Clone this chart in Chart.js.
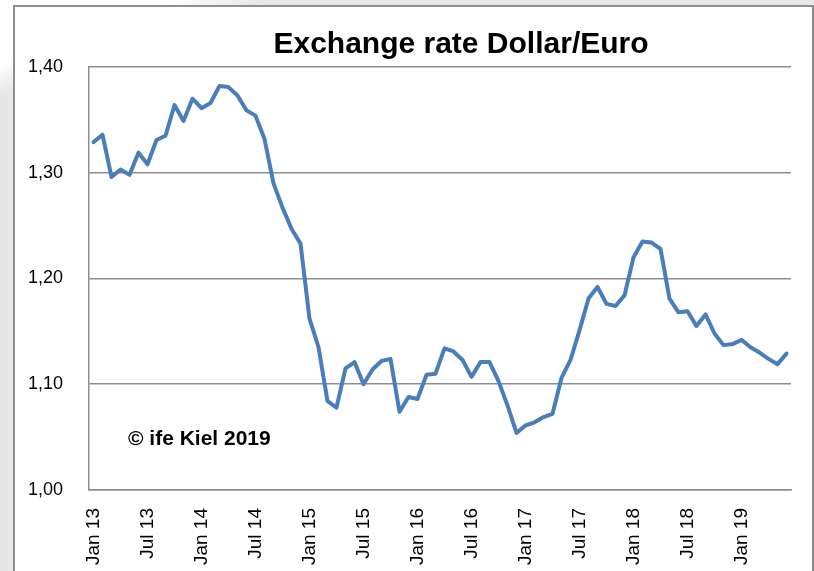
<!DOCTYPE html>
<html>
<head>
<meta charset="utf-8">
<script src="https://cdn.jsdelivr.net/npm/chart.js@4.4.1/dist/chart.umd.min.js"></script>
<style>
  html, body { margin: 0; padding: 0; }
  body {
    width: 814px; height: 571px; overflow: hidden; position: relative;
    background: linear-gradient(160deg, #ffffff 0, #ffffff 60px, #e7e7e7 90px, #e7e7e7 100%);
  }
  #box {
    position: absolute; left: 13px; top: 5px; width: 797px; height: 600px;
    border: 2px solid #8e8e8e; background: #fff;
  }
  #wrap { position: absolute; left: 16px; top: 8px; width: 794px; height: 563px; }
</style>
</head>
<body>
<div id="box"></div>
<div id="wrap"><canvas id="fxChart"></canvas></div>
<script>
// monthly average USD per EUR, Jan 2013 - Jun 2019
const years = ['13', '14', '15', '16', '17', '18', '19'];
const monthNames = ['Jan', 'Feb', 'Mar', 'Apr', 'May', 'Jun', 'Jul', 'Aug', 'Sep', 'Oct', 'Nov', 'Dec'];
const rate2013 = [1.329, 1.336, 1.296, 1.303, 1.298, 1.319, 1.308, 1.331, 1.335, 1.364, 1.349, 1.370];
const rate2014 = [1.361, 1.366, 1.382, 1.381, 1.373, 1.359, 1.354, 1.332, 1.290, 1.267, 1.247, 1.233];
const rate2015 = [1.162, 1.135, 1.084, 1.078, 1.115, 1.121, 1.100, 1.114, 1.122, 1.124, 1.074, 1.088];
const rate2016 = [1.086, 1.109, 1.110, 1.134, 1.131, 1.123, 1.107, 1.121, 1.121, 1.103, 1.080, 1.054];
const rate2017 = [1.061, 1.064, 1.069, 1.072, 1.106, 1.123, 1.151, 1.181, 1.192, 1.176, 1.174, 1.184];
const rate2018 = [1.220, 1.235, 1.234, 1.228, 1.181, 1.168, 1.169, 1.155, 1.166, 1.148, 1.137, 1.138];
const rate2019 = [1.142, 1.135, 1.130, 1.124, 1.119, 1.129];
const yTicks = [1.00, 1.10, 1.20, 1.30, 1.40];

const rates = [].concat(rate2013, rate2014, rate2015, rate2016, rate2017, rate2018, rate2019);
const labels = rates.map((v, i) => monthNames[i % 12] + ' ' + years[Math.floor(i / 12)]);

const fontFamily = '"Liberation Sans", Arial, sans-serif';

// title and copyright note
const textPlugin = {
  id: 'texts',
  afterDraw(chart) {
    const ctx = chart.ctx;
    const area = chart.chartArea;
    ctx.save();
    ctx.fillStyle = '#000';
    ctx.textAlign = 'center';
    ctx.textBaseline = 'alphabetic';
    ctx.font = 'bold 30px ' + fontFamily;
    ctx.fillText('Exchange rate Dollar/Euro', area.left + (area.right - area.left) / 2 + 21, 45);
    ctx.textAlign = 'left';
    ctx.font = 'bold 21px ' + fontFamily;
    ctx.fillText('\u00a9 ife Kiel 2019', area.left + 39, 437);
    ctx.restore();
  }
};

const ctx = document.getElementById('fxChart').getContext('2d');
const fxChart = new Chart(ctx, {
  type: 'line',
  data: {
    labels: labels,
    datasets: [{
      data: rates,
      borderColor: '#4a7ebb',
      borderWidth: 4,
      borderJoinStyle: 'round',
      borderCapStyle: 'round',
      pointRadius: 0,
      tension: 0,
      fill: false
    }]
  },
  options: {
    responsive: true,
    maintainAspectRatio: false,
    animation: false,
    layout: { padding: { left: 0, right: 19, top: 59, bottom: 0 } },
    plugins: {
      legend: { display: false },
      title: { display: false },
      tooltip: { enabled: false }
    },
    scales: {
      x: {
        offset: true,
        grid: { display: false, drawTicks: false },
        border: { display: true, color: '#8e8e8e', width: 1.5 },
        ticks: {
          autoSkip: false,
          maxRotation: 90,
          minRotation: 90,
          padding: 18,
          color: '#000',
          font: { family: fontFamily, size: 19 },
          callback: function(value, index) {
            return index % 6 === 0 ? labels[index] : '';
          }
        },
        afterFit: function(scale) {
          scale.height = 81;
          scale.paddingLeft = 0;
          scale.paddingRight = 0;
        }
      },
      y: {
        min: 1.0,
        max: 1.4,
        afterBuildTicks: function(scale) {
          scale.ticks = yTicks.map(v => ({ value: v }));
        },
        grid: { color: '#8e8e8e', lineWidth: 1.5, drawTicks: false },
        border: { display: true, color: '#8e8e8e', width: 1.5 },
        ticks: {
          padding: 26,
          color: '#000',
          font: { family: fontFamily, size: 18 },
          callback: function(value) {
            return value.toFixed(2).replace('.', ',');
          }
        },
        afterFit: function(scale) { scale.width = 73; }
      }
    }
  },
  plugins: [textPlugin]
});
</script>
</body>
</html>
